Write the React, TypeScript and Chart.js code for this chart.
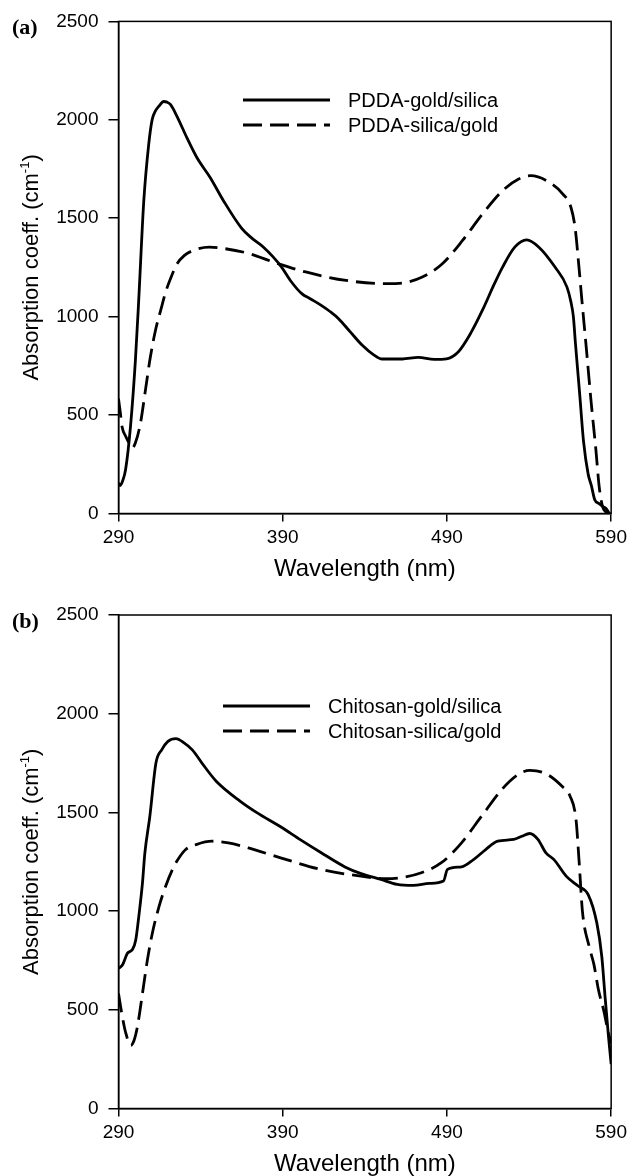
import React, { useEffect, useRef } from "react";
import { Chart, registerables } from "chart.js";

Chart.register(...registerables);

// ---------- data ----------
const xTicks = [290, 390, 490, 590];
const yTicks = [0, 500, 1000, 1500, 2000, 2500];

// (a) PDDA-gold/silica (solid)
const pddaGoldSilicaWl = [290, 291, 292.5, 294.3, 297.3, 300.3, 302.3, 305.4, 308.4, 310.5, 312.5, 314.5, 317.5, 319.5, 321.6, 325.6, 331.7, 337.8, 345.9, 354, 364.9, 371, 378.3, 384, 389.3, 395, 401.6, 407, 413, 419, 424, 431, 438.3, 445.6, 450.5, 462.8, 472.5, 482.3, 489.7, 497, 504.4, 511.7, 519, 523.9, 531.3, 538.6, 546, 555.8, 563.1, 565.5, 567, 568.2, 569.5, 571, 573.2, 576, 578, 580, 582.7, 585, 587, 588.8];
const pddaGoldSilicaAbs = [155, 142, 165, 222, 441, 779, 1082, 1588, 1875, 2001, 2045, 2068, 2093, 2090, 2078, 2018, 1908, 1807, 1706, 1588, 1450, 1400, 1353, 1305, 1252, 1180, 1117, 1090, 1060, 1025, 990, 924, 856, 805, 785, 785, 793, 783, 786, 822, 915, 1034, 1169, 1252, 1353, 1390, 1353, 1252, 1150, 1075, 1000, 870, 740, 590, 365, 200, 140, 70, 50, 35, 25, 0];

// (a) PDDA-silica/gold (dashed)
const pddaSilicaGoldWl = [290, 291, 292.2, 294.5, 296.3, 298.3, 300.3, 303.4, 306.4, 309.4, 312.5, 316.5, 318.4, 322, 325.7, 330, 335.5, 345.3, 355.1, 369.8, 384.5, 404, 428.5, 453, 462.8, 475, 487.2, 499.5, 511.7, 523.9, 533.7, 541, 550.8, 560.6, 565.5, 568, 570.4, 572.2, 575, 577.7, 580.7, 582.7, 584.7, 586.5, 589.5];
const pddaSilicaGoldAbs = [583, 520, 440, 390, 360, 332, 359, 460, 627, 795, 930, 1057, 1117, 1200, 1269, 1310, 1336, 1353, 1345, 1320, 1277, 1227, 1184, 1168, 1171, 1201, 1269, 1387, 1522, 1640, 1699, 1716, 1690, 1623, 1556, 1455, 1252, 1082, 829, 576, 324, 138, 37, 10, 0];

// (b) Chitosan-gold/silica (solid)
const chitosanGoldSilicaWl = [290, 292.4, 295.5, 298.5, 300.5, 302.6, 304.6, 306, 309.1, 312.8, 316.4, 320.1, 325, 329.9, 334.8, 342.2, 349.5, 364.2, 374, 388.7, 400.9, 413.2, 427.9, 437.7, 449.9, 459.7, 469.5, 479.3, 487.9, 490.3, 498.9, 506.2, 513.6, 520.9, 530.7, 535.6, 540.4, 545.4, 550.3, 555.2, 562.6, 569.9, 576, 581.3, 584.3, 586.3, 588.4, 590];
const chitosanGoldSilicaAbs = [710, 727, 787, 805, 854, 990, 1143, 1290, 1481, 1750, 1818, 1860, 1874, 1852, 1818, 1734, 1658, 1556, 1500, 1427, 1361, 1297, 1224, 1190, 1160, 1135, 1130, 1140, 1152, 1211, 1224, 1261, 1312, 1354, 1363, 1379, 1393, 1363, 1295, 1261, 1177, 1127, 1084, 939, 770, 566, 363, 225];

// (b) Chitosan-silica/gold (dashed)
const chitosanSilicaGoldWl = [290, 292, 294.5, 297.5, 299.5, 301.5, 304.6, 307.6, 310.6, 314.7, 318.7, 323.8, 327.5, 330.9, 337.3, 347, 356.9, 369.1, 388.7, 413.2, 437.7, 452.4, 462.1, 474.4, 486.6, 498.9, 511.1, 523.4, 533.2, 540.5, 550.3, 560.1, 565, 568.6, 570.5, 572.5, 576.6, 579.5, 582.3, 585.4, 588.4, 590];
const chitosanSilicaGoldAbs = [583, 481, 380, 320, 346, 414, 583, 753, 888, 1024, 1126, 1227, 1278, 1312, 1337, 1354, 1346, 1320, 1270, 1211, 1177, 1164, 1169, 1194, 1245, 1346, 1481, 1616, 1691, 1713, 1696, 1632, 1582, 1464, 1250, 1000, 821, 730, 600, 499, 380, 330];

const legendA = ["PDDA-gold/silica", "PDDA-silica/gold"];
const legendB = ["Chitosan-gold/silica", "Chitosan-silica/gold"];
const yTitleMain = "Absorption coeff. (cm";
const yTitleSup = "-1";
const yTitleEnd = ")";
const xTitle = "Wavelength (nm)";

// ---------- styling ----------
const SANS = '"Liberation Sans", Arial, Helvetica, sans-serif';
const SERIF = '"Liberation Serif", "Times New Roman", serif';
const W = 632;
const PLOT_LEFT = 118.5;
const PLOT_RIGHT = 613.5;
const DASH = [19, 8];

type PanelProps = {
  top: number;
  height: number;
  plotTop: number;
  plotBottom: number;
  label: string;
  labelY: number;
  legend: string[];
  legendX: number;
  legendY: number;
  solidWl: number[];
  solidAbs: number[];
  dashWl: number[];
  dashAbs: number[];
};

function Panel(p: PanelProps) {
  const ref = useRef<HTMLCanvasElement | null>(null);
  useEffect(() => {
    const canvas = ref.current;
    if (!canvas) return;
    const overlay = {
      id: "overlay",
      afterDraw(chart: any) {
        const ctx = chart.ctx as CanvasRenderingContext2D;
        const a = chart.chartArea;
        ctx.save();
        // frame
        ctx.strokeStyle = "#000";
        ctx.lineWidth = 1.5;
        ctx.strokeRect(a.left, a.top, a.right - a.left, a.bottom - a.top);

        // legend
        const lineLen = 87;
        const rowGap = 25;
        p.legend.forEach((txt, i) => {
          const y = p.legendY + i * rowGap;
          ctx.beginPath();
          ctx.setLineDash(i === 0 ? [] : DASH);
          ctx.lineWidth = 3;
          ctx.moveTo(p.legendX, y);
          ctx.lineTo(p.legendX + lineLen, y);
          ctx.stroke();
          ctx.setLineDash([]);
          ctx.fillStyle = "#000";
          ctx.font = `20px ${SANS}`;
          ctx.textAlign = "left";
          ctx.textBaseline = "middle";
          ctx.fillText(txt, p.legendX + lineLen + 18, y + 1);
        });

        // y title (rotated, with superscript)
        const cy = (a.top + a.bottom) / 2;
        ctx.save();
        ctx.translate(30, cy);
        ctx.rotate(-Math.PI / 2);
        ctx.font = `22px ${SANS}`;
        const w1 = ctx.measureText(yTitleMain).width;
        const w3 = ctx.measureText(yTitleEnd).width;
        ctx.font = `13px ${SANS}`;
        const w2 = ctx.measureText(yTitleSup).width;
        const total = w1 + w2 + w3;
        let x0 = -total / 2;
        ctx.textAlign = "left";
        ctx.textBaseline = "alphabetic";
        ctx.fillStyle = "#000";
        ctx.font = `22px ${SANS}`;
        ctx.fillText(yTitleMain, x0, 8);
        x0 += w1;
        ctx.font = `13px ${SANS}`;
        ctx.fillText(yTitleSup, x0, -1);
        x0 += w2;
        ctx.font = `22px ${SANS}`;
        ctx.fillText(yTitleEnd, x0, 8);
        ctx.restore();

        // x title
        ctx.font = `24px ${SANS}`;
        ctx.textAlign = "center";
        ctx.textBaseline = "middle";
        ctx.fillStyle = "#000";
        ctx.fillText(xTitle, (a.left + a.right) / 2, a.bottom + 56);

        // panel label
        ctx.font = `bold 22px ${SERIF}`;
        ctx.textAlign = "left";
        ctx.textBaseline = "middle";
        ctx.fillText(p.label, 12, p.labelY);
        ctx.restore();
      },
    };

    const tickFont = { family: SANS, size: 19 };
    const chart = new Chart(canvas, {
      type: "line",
      data: {
        datasets: [
          {
            label: p.legend[0],
            data: p.solidWl.map((x, i) => ({ x, y: p.solidAbs[i] })),
            borderColor: "#000",
            borderWidth: 2.8,
            pointRadius: 0,
            fill: false,
            cubicInterpolationMode: "monotone",
          },
          {
            label: p.legend[1],
            data: p.dashWl.map((x, i) => ({ x, y: p.dashAbs[i] })),
            borderColor: "#000",
            borderWidth: 2.8,
            borderDash: DASH,
            pointRadius: 0,
            fill: false,
            cubicInterpolationMode: "monotone",
          },
        ],
      },
      options: {
        responsive: false,
        animation: false,
        devicePixelRatio: 1,
        layout: { padding: { top: p.plotTop, right: W - PLOT_RIGHT, left: 0, bottom: 0 } },
        plugins: {
          legend: { display: false },
          tooltip: { enabled: false },
          title: { display: false },
        },
        scales: {
          x: {
            type: "linear",
            position: "bottom",
            min: 290,
            max: 590,
            afterBuildTicks: (s: any) => {
              s.ticks = xTicks.map((v) => ({ value: v }));
            },
            afterFit: (s: any) => {
              s.height = p.height - p.plotBottom;
            },
            ticks: {
              font: tickFont,
              color: "#000",
              padding: 5,
              maxRotation: 0,
              autoSkip: false,
              callback: (v: any) => String(v),
            },
            grid: { drawOnChartArea: false, drawTicks: true, tickLength: 8, color: "#000", lineWidth: 1.5 },
            border: { display: true, color: "#000", width: 1.5 },
          },
          y: {
            type: "linear",
            min: 0,
            max: 2500,
            afterBuildTicks: (s: any) => {
              s.ticks = yTicks.map((v) => ({ value: v }));
            },
            afterFit: (s: any) => {
              s.width = PLOT_LEFT;
            },
            ticks: {
              font: tickFont,
              color: "#000",
              padding: 10,
              autoSkip: false,
              callback: (v: any) => String(v),
            },
            grid: { drawOnChartArea: false, drawTicks: true, tickLength: 10, color: "#000", lineWidth: 1.5 },
            border: { display: true, color: "#000", width: 1.5 },
          },
        },
      },
      plugins: [overlay],
    } as any);
    return () => chart.destroy();
  }, []);

  return (
    <canvas
      ref={ref}
      width={W}
      height={p.height}
      style={{ position: "absolute", left: 0, top: p.top, width: W, height: p.height, display: "block" }}
    />
  );
}

export default function App() {
  return (
    <div style={{ position: "absolute", left: 0, top: 0, width: W, height: 1176, background: "#fff", overflow: "hidden" }}>
      <Panel
        top={0}
        height={590}
        plotTop={21}
        plotBottom={513.5}
        label="(a)"
        labelY={28}
        legend={legendA}
        legendX={243}
        legendY={100}
        solidWl={pddaGoldSilicaWl}
        solidAbs={pddaGoldSilicaAbs}
        dashWl={pddaSilicaGoldWl}
        dashAbs={pddaSilicaGoldAbs}
      />
      <Panel
        top={590}
        height={586}
        plotTop={25}
        plotBottom={518.5}
        label="(b)"
        labelY={32}
        legend={legendB}
        legendX={223}
        legendY={116}
        solidWl={chitosanGoldSilicaWl}
        solidAbs={chitosanGoldSilicaAbs}
        dashWl={chitosanSilicaGoldWl}
        dashAbs={chitosanSilicaGoldAbs}
      />
    </div>
  );
}
